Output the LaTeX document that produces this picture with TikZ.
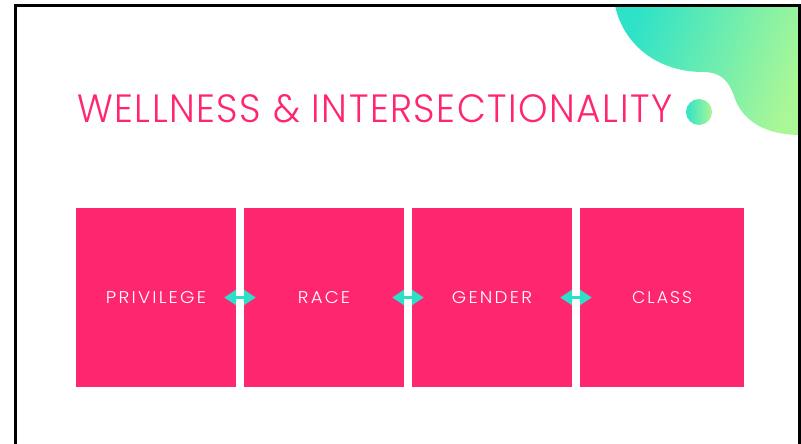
\documentclass[tikz,border=0pt]{standalone}
\usepackage{fontspec}
\IfFontExistsTF{Poppins Light}{\setmainfont{Poppins Light}}{\setmainfont{Poppins}}
\usetikzlibrary{arrows.meta}
\definecolor{pinkc}{HTML}{FF2670}
\definecolor{tealc}{HTML}{2EDFC8}
\definecolor{gA}{HTML}{2EE2C8}
\definecolor{gB}{HTML}{A9F797}
\newcommand{\lbl}[2]{\resizebox{#2pt}{12pt}{\addfontfeature{LetterSpace=12}#1}}
\begin{document}
\begin{tikzpicture}[x=1pt,y=-1pt,
  box/.style={fill=pinkc, draw=none, minimum height=179pt, inner sep=0pt, text=white},
  dbl/.style={draw=tealc, line width=3pt,
    {Triangle[length=12pt,width=15pt]}-{Triangle[length=12pt,width=15pt]}},
  frame/.style={draw=black, line width=3pt}]
\useasboundingbox (0,0) rectangle (801,444);
\fill[white] (0,0) rectangle (801,444);
% decorative blob
\shade[left color=gA, right color=gB, shading angle=70]
  (615,5.5) .. controls (624,47) and (660,72) .. (703,72)
  .. controls (722,72) and (729,82) .. (734,96)
  .. controls (742,121) and (765,135) .. (801,135)
  -- (801,5.5) -- cycle;
\shade[left color=gA, right color=gB] (699,112) circle (13);
% frame
\draw[frame] (15.5,444) -- (15.5,5.5) -- (799.5,5.5) -- (799.5,444);
% title
\node[anchor=west, text=pinkc, inner sep=0pt] (title) at (77,109)
  {\resizebox{595pt}{28pt}{\addfontfeature{LetterSpace=4}WELLNESS \& INTERSECTIONALITY}};
% boxes
\node[box, minimum width=160pt] (b1) at (156,297.5) {\lbl{PRIVILEGE}{100}};
\node[box, minimum width=160pt] (b2) at (324,297.5) {\lbl{RACE}{52}};
\node[box, minimum width=160pt] (b3) at (492,297.5) {\lbl{GENDER}{80}};
\node[box, minimum width=164pt] (b4) at (662,297.5) {\lbl{CLASS}{60}};
% arrows
\draw[dbl] ([xshift=-12pt]b1.east) -- ([xshift=12pt]b2.west);
\draw[dbl] ([xshift=-12pt]b2.east) -- ([xshift=12pt]b3.west);
\draw[dbl] ([xshift=-12pt]b3.east) -- ([xshift=12pt]b4.west);
\end{tikzpicture}
\end{document}
